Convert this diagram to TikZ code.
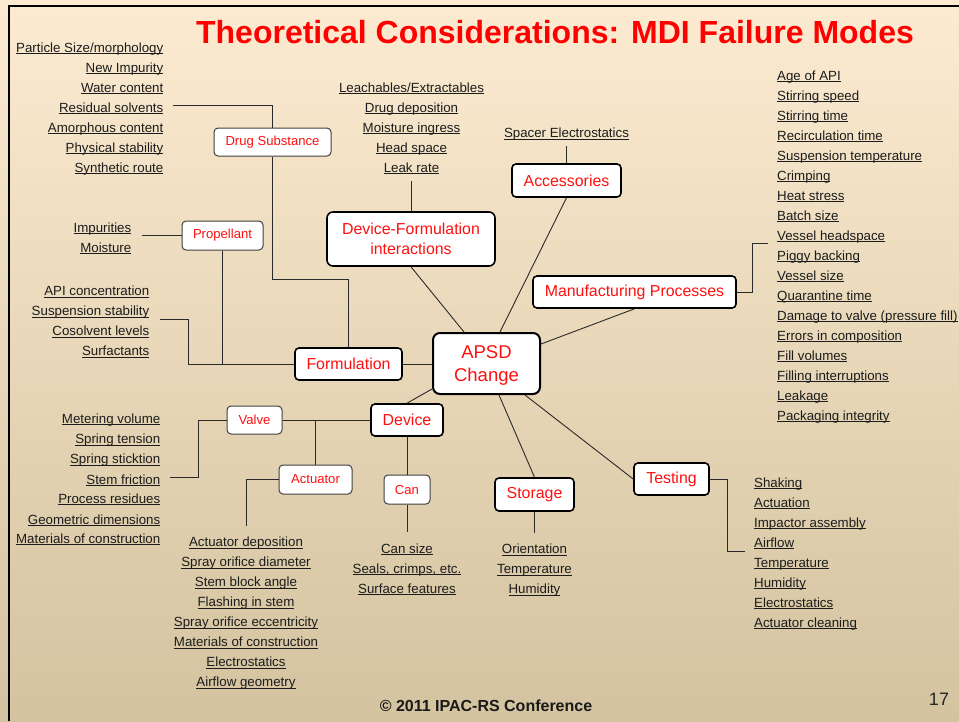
\documentclass[tikz,border=0pt]{standalone}
\usepackage{fontspec}
\setmainfont{Liberation Sans}
\usetikzlibrary{calc}
\definecolor{bgtop}{HTML}{FCEBD1}
\definecolor{bgmid}{HTML}{F1E7D1}
\definecolor{bgbot}{HTML}{D3C39F}
\definecolor{itemgray}{HTML}{1C1C1C}
\definecolor{boxred}{HTML}{FF1010}
\definecolor{linegray}{HTML}{2A2A2A}
\newsavebox\ulbox
\newcommand\ulx[1]{\sbox\ulbox{#1}\rlap{\rule[-1.9pt]{\wd\ulbox}{0.85pt}}\usebox\ulbox}
\newcommand\itemfont{\fontsize{13.3}{15}\selectfont}
\newcommand\smallboxfont{\fontsize{13.1}{15}\selectfont}
\newcommand\bigboxfont{\fontsize{15.9}{19.4}\selectfont}
\newcommand\apsdfont{\fontsize{18.5}{22.8}\selectfont}
\tikzset{
  item/.style={inner sep=0pt, font=\itemfont, text=itemgray},
  itemR/.style={item, anchor=base east},
  itemL/.style={item, anchor=base west},
  itemC/.style={item, anchor=base},
  box/.style={draw, fill=white, rounded corners=4pt, text=boxred, inner sep=0pt, align=center},
  smallbox/.style={box, draw=black!75, line width=1pt, font=\smallboxfont},
  bigbox/.style={box, draw=black, line width=1.6pt, font=\bigboxfont},
  conn/.style={draw=linegray, line width=0.9pt},
}
\begin{document}
\begin{tikzpicture}[x=1pt,y=-1pt]
\useasboundingbox (0,0) rectangle (959,721);
\shade[top color=bgtop, middle color=bgmid, bottom color=bgbot] (0,0) rectangle (959,721);
\draw[line width=2pt, black] (8.5,721) -- (8.5,5.5) -- (959,5.5);

% title
\node[anchor=base, inner sep=0pt, text=red, font=\fontsize{32}{36}\selectfont\bfseries] (title) at (555,43) {Theoretical Considerations: MDI Failure Modes};

% boxes
\node[box, draw=black, line width=2pt, rounded corners=7pt, font=\apsdfont, text depth=-1pt, minimum width=107pt, minimum height=61pt] (apsd) at (486.5,363.5) {APSD\\Change};
\node[bigbox, minimum width=107pt, minimum height=32pt] (form) at (348.5,364) {Formulation};
\node[bigbox, rounded corners=6pt, minimum width=168pt, minimum height=54pt] (dfi) at (411,239) {Device-Formulation\\interactions};
\node[bigbox, minimum width=109pt, minimum height=33pt] (acc) at (566.5,180.5) {Accessories};
\node[bigbox, minimum width=203pt, minimum height=32pt] (mfg) at (634.5,292) {Manufacturing Processes};
\node[bigbox, minimum width=72pt, minimum height=32pt] (dev) at (407,420) {Device};
\node[bigbox, minimum width=79pt, minimum height=33pt] (stor) at (534.5,494.5) {Storage};
\node[bigbox, minimum width=75pt, minimum height=32pt] (test) at (671.5,479) {Testing};
\node[smallbox, minimum width=117pt, minimum height=28pt] (drug) at (272.5,142) {Drug Substance};
\node[smallbox, minimum width=81pt, minimum height=29pt] (prop) at (222.5,235.5) {Propellant};
\node[smallbox, minimum width=55pt, minimum height=28pt] (valve) at (254.5,420) {Valve};
\node[smallbox, minimum width=73pt, minimum height=29pt] (act) at (315.5,479.5) {Actuator};
\node[smallbox, minimum width=46pt, minimum height=29pt] (can) at (407,489.5) {Can};

% free ends
\coordinate (dsend) at (173,105);
\coordinate (propend) at (142,235.5);
\coordinate (formend) at (160,319);
\coordinate (dfiend) at (411,181);
\coordinate (accend) at (566.5,146);
\coordinate (mfgend) at (768,243);
\coordinate (testend) at (745,551);
\coordinate (storend) at (534.5,533);
\coordinate (canend) at (407,532);
\coordinate (actend) at (246,526);
\coordinate (valveend) at (170,477);

% connectors
\draw[conn] (form.east) -- (apsd.west |- form.east);
\draw[conn] (dfi.south) -- ([xshift=-22.5pt]apsd.north);
\draw[conn] (acc.south) -- ([xshift=13.5pt]apsd.north);
\draw[conn] (mfg.south) -- ([yshift=19.5pt]apsd.east);
\draw[conn] ([xshift=38.5pt]apsd.south) -- (test.west);
\draw[conn] ([xshift=12.5pt]apsd.south) -- (stor.north);
\draw[conn] ([yshift=-25.5pt]apsd.west) -- (dev.north);
\draw[conn] (dev.west) -- (valve.east);
\draw[conn] (act.north |- dev.west) -- (act.north);
\draw[conn] (act.west) -| (actend);
\draw[conn] (dev.south) -- (can.north);
\draw[conn] (can.south) -- (canend);
\draw[conn] (valve.west) -- (198,420) -- (198,477) -- (valveend);
\draw[conn] (prop.west) -- (propend);
\draw[conn] (prop.south) -- (prop.south |- form.west);
\draw[conn] (formend) -- (188,319) -- (188,364) -- (form.west);
\draw[conn] (dsend) -| (drug.north);
\draw[conn] (drug.south) -- (272.5,279) -| (form.north);
\draw[conn] (dfi.north) -- (dfiend);
\draw[conn] (acc.north) -- (accend);
\draw[conn] (mfg.east) -- (752,292) -- (752,243) -- (mfgend);
\draw[conn] (test.east) -- (727,479) -- (727,551) -- (testend);
\draw[conn] (stor.south) -- (storend);

% items
\foreach \t [count=\i] in {Particle Size/morphology, New Impurity, Water content, Residual solvents, Amorphous content, Physical stability, Synthetic route}
  \node[itemR] (ds\i) at (163.5,{32+20*\i}) {\ulx{\t}};
\foreach \t [count=\i] in {Impurities, Moisture}
  \node[itemR] (pr\i) at (131.5,{212+20*\i}) {\ulx{\t}};
\foreach \t [count=\i] in {API concentration, Suspension stability, Cosolvent levels, Surfactants}
  \node[itemR] (fo\i) at (149.5,{275.5+20*\i}) {\ulx{\t}};
\foreach \t/\y [count=\i] in {Metering volume/423, Spring tension/443.5, Spring sticktion/463.5, Stem friction/484, Process residues/503, Geometric dimensions/524, Materials of construction/543}
  \node[itemR] (va\i) at (160.5,\y) {\ulx{\t}};
\foreach \t [count=\i] in {Leachables/Extractables, Drug deposition, Moisture ingress, Head space, Leak rate}
  \node[itemC] (df\i) at (411.5,{72+20*\i}) {\ulx{\t}};
\node[itemC] (ac1) at (566.5,137.5) {\ulx{Spacer Electrostatics}};
\foreach \t [count=\i] in {Age of API, Stirring speed, Stirring time, Recirculation time, Suspension temperature, Crimping, Heat stress, Batch size, Vessel headspace, Piggy backing, Vessel size, Quarantine time, Damage to valve (pressure fill), Errors in composition, Fill volumes, Filling interruptions, Leakage, Packaging integrity}
  \node[itemL] (mf\i) at (777,{60+20*\i}) {\ulx{\t}};
\foreach \t [count=\i] in {Shaking, Actuation, Impactor assembly, Airflow, Temperature, Humidity, Electrostatics, Actuator cleaning}
  \node[itemL] (te\i) at (754,{467+20*\i}) {\ulx{\t}};
\foreach \t [count=\i] in {Orientation, Temperature, Humidity}
  \node[itemC] (st\i) at (534.5,{533.7+20*\i}) {\ulx{\t}};
\foreach \t [count=\i] in {Can size, {Seals, crimps, etc.}, Surface features}
  \node[itemC] (ca\i) at (407,{533.3+20*\i}) {\ulx{\t}};
\foreach \t [count=\i] in {Actuator deposition, Spray orifice diameter, Stem block angle, Flashing in stem, Spray orifice eccentricity, Materials of construction, Electrostatics, Airflow geometry}
  \node[itemC] (at\i) at (246,{526.7+20*\i}) {\ulx{\t}};

% footer
\node[anchor=base, inner sep=0pt, font=\fontsize{16}{18}\selectfont\bfseries, text=black!90] (foot) at (486,711) {© 2011 IPAC-RS Conference};
\node[anchor=base, inner sep=0pt, font=\fontsize{18}{20}\selectfont, text=black!85] (pnum) at (939,705) {17};
\end{tikzpicture}
\end{document}
